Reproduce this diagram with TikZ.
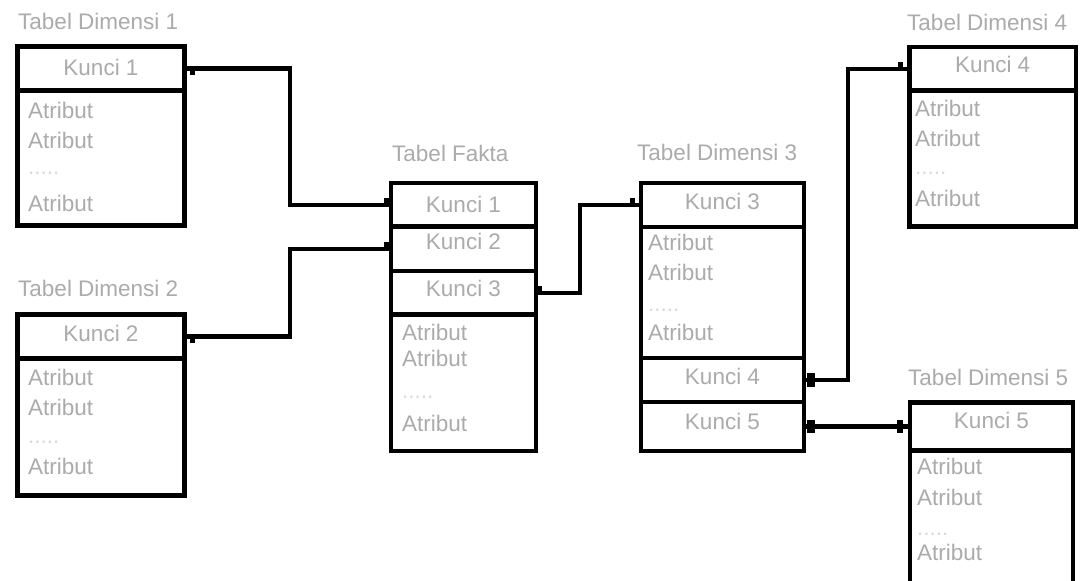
\documentclass[tikz,border=0pt]{standalone}
\usepackage{fontspec}
\setmainfont{Liberation Sans}
\usetikzlibrary{calc}

\tikzset{
  tbl/.style={draw=black, line width=4.5pt, inner sep=0pt, outer sep=0pt},
  txt/.style={text=black!33, font=\fontsize{22.5}{26}\selectfont, inner sep=0pt},
  lefttxt/.style={txt, anchor=west},
  dots/.style={txt, text=black!15, anchor=west},
  link/.style={draw=black, line width=4.2pt},
  tip/.style={fill=black}
}

\begin{document}
\begin{tikzpicture}[x=1pt, y=-1pt]
  \useasboundingbox (0,0) rectangle (1082,581);
  \fill[white] (0,0) rectangle (1082,581);
  \clip (0,0) rectangle (1082,581);

  % ---- Tabel Dimensi 1
  \node[lefttxt] (d1t) at (18,21) {Tabel Dimensi 1};
  \node[tbl, minimum width=167pt, minimum height=44pt] (d1k) at (101,68.5) {};
  \node[tbl, minimum width=167pt, minimum height=135pt] (d1b) at (101,158) {};
  \node[txt] (d1kt) at (101,67) {Kunci 1};
  \node[lefttxt] (d1a1) at (28,110) {Atribut};
  \node[lefttxt] (d1a2) at (28,140) {Atribut};
  \node[dots] (d1a3) at (28,173) {.....};
  \node[lefttxt] (d1a4) at (28,203) {Atribut};

  % ---- Tabel Dimensi 2
  \node[lefttxt] (d2t) at (18,288) {Tabel Dimensi 2};
  \node[tbl, minimum width=167pt, minimum height=44pt] (d2k) at (101,336.5) {};
  \node[tbl, minimum width=167pt, minimum height=137pt] (d2b) at (101,427) {};
  \node[txt] (d2kt) at (101,333) {Kunci 2};
  \node[lefttxt] (d2a1) at (28,377) {Atribut};
  \node[lefttxt] (d2a2) at (28,407) {Atribut};
  \node[dots] (d2a3) at (28,442) {.....};
  \node[lefttxt] (d2a4) at (28,466) {Atribut};

  % ---- Tabel Fakta
  \node[lefttxt] (ft) at (392,153) {Tabel Fakta};
  \node[tbl, minimum width=145pt, minimum height=43.5pt] (fk1) at (463.5,204.75) {};
  \node[tbl, minimum width=145pt, minimum height=44.5pt] (fk2) at (463.5,248.75) {};
  \node[tbl, minimum width=145pt, minimum height=43.5pt] (fk3) at (463.5,292.75) {};
  \node[tbl, minimum width=145pt, minimum height=136.5pt] (fb) at (463.5,382.75) {};
  \node[txt] (fk1t) at (463.5,204) {Kunci 1};
  \node[txt] (fk2t) at (463.5,241) {Kunci 2};
  \node[txt] (fk3t) at (463.5,288) {Kunci 3};
  \node[lefttxt] (fa1) at (402,332) {Atribut};
  \node[lefttxt] (fa2) at (402,358) {Atribut};
  \node[dots] (fa3) at (402,397) {.....};
  \node[lefttxt] (fa4) at (402,423) {Atribut};

  % ---- Tabel Dimensi 3
  \node[lefttxt] (d3t) at (637,152) {Tabel Dimensi 3};
  \node[tbl, minimum width=163pt, minimum height=44pt] (d3k3) at (722.5,205) {};
  \node[tbl, minimum width=163pt, minimum height=131pt] (d3b) at (722.5,292.5) {};
  \node[tbl, minimum width=163pt, minimum height=44pt] (d3k4) at (722.5,380) {};
  \node[tbl, minimum width=163pt, minimum height=49pt] (d3k5) at (722.5,426.5) {};
  \node[txt] (d3k3t) at (722.5,201) {Kunci 3};
  \node[txt] (d3k4t) at (722.5,376) {Kunci 4};
  \node[txt] (d3k5t) at (722.5,421) {Kunci 5};
  \node[lefttxt] (d3a1) at (648,242) {Atribut};
  \node[lefttxt] (d3a2) at (648,272) {Atribut};
  \node[dots] (d3a3) at (648,310) {.....};
  \node[lefttxt] (d3a4) at (648,332) {Atribut};

  % ---- Tabel Dimensi 4
  \node[lefttxt] (d4t) at (907,22) {Tabel Dimensi 4};
  \node[tbl, minimum width=166.5pt, minimum height=43.5pt] (d4k) at (992.75,68.75) {};
  \node[tbl, minimum width=166.5pt, minimum height=136pt] (d4b) at (992.75,158.5) {};
  \node[txt] (d4kt) at (992.75,64) {Kunci 4};
  \node[lefttxt] (d4a1) at (915,108) {Atribut};
  \node[lefttxt] (d4a2) at (915,138) {Atribut};
  \node[dots] (d4a3) at (915,173) {.....};
  \node[lefttxt] (d4a4) at (915,198) {Atribut};

  % ---- Tabel Dimensi 5 (runs past the lower edge)
  \node[lefttxt] (d5t) at (908,377) {Tabel Dimensi 5};
  \node[tbl, minimum width=163pt, minimum height=48pt] (d5k) at (991.5,426.5) {};
  \node[tbl, minimum width=163pt, minimum height=189.5pt] (d5b) at (991.5,545.25) {};
  \node[txt] (d5kt) at (991.5,420) {Kunci 5};
  \node[lefttxt] (d5a1) at (917,466) {Atribut};
  \node[lefttxt] (d5a2) at (917,497) {Atribut};
  \node[dots] (d5a3) at (917,534) {.....};
  \node[lefttxt] (d5a4) at (917,552) {Atribut};

  % ---- bend points of the relations
  \coordinate (j1) at (290,150);
  \coordinate (j2) at (290,300);
  \coordinate (j3) at (580,250);
  \coordinate (j4) at (848,200);

  % ---- relations
  \draw[link] (d1k.east) -| (j1) |- (fk1.west);
  \draw[link] (d2k.east) -| (j2) |- (fk2.west);
  \draw[link] (fk3.east) -| (j3) |- (d3k3.west);
  \draw[link] (d3k4.east) -| (j4) |- (d4k.west);
  \draw[link] (d3k5.east) -- (d5k.west);

  % ---- end markers
  \fill[tip] ($(d1k.east)+(5.5,2)$) rectangle ++(5,4.5);
  \fill[tip] ($(fk1.west)+(-7,-6.75)$) rectangle ++(5,5);
  \fill[tip] ($(d2k.east)+(5.5,2)$) rectangle ++(5,4.5);
  \fill[tip] ($(fk2.west)+(-7,-6.75)$) rectangle ++(5,5);
  \fill[tip] ($(fk3.east)+(1,-6.5)$) rectangle ++(5,6);
  \fill[tip] ($(d3k3.west)+(-11,-7)$) rectangle ++(5,5);
  \fill[tip] ($(d3k4.east)+(3,-7)$) rectangle ++(8,14);
  \fill[tip] ($(d4k.west)+(-11.5,-6.75)$) rectangle ++(5,4.5);
  \fill[tip] ($(d3k5.east)+(3,-6.5)$) rectangle ++(8,13);
  \fill[tip] ($(d5k.west)+(-13,-6.5)$) rectangle ++(6,13);
\end{tikzpicture}
\end{document}
